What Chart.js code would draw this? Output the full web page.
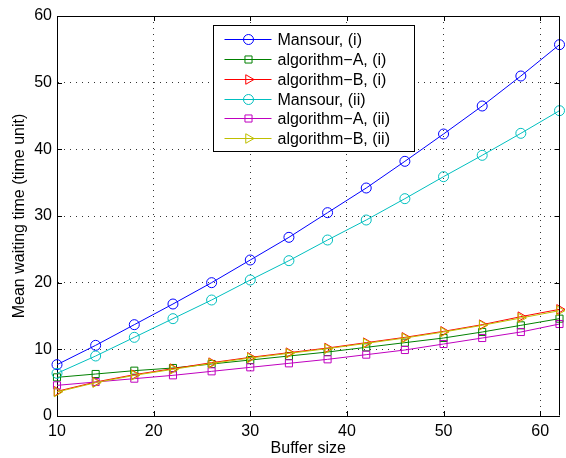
<!DOCTYPE html>
<html>
<head>
<meta charset="utf-8">
<script src="https://cdn.jsdelivr.net/npm/chart.js@4.4.0/dist/chart.umd.min.js"></script>
<style>
  body { margin: 0; background: #fff; }
  #wrap { width: 566px; height: 458px; }
</style>
</head>
<body>
<div id="wrap"><canvas id="myChart" width="566" height="458"></canvas></div>
<script>
// buffer sizes on the x axis
const bufferSizes = [10, 14, 18, 22, 26, 30, 34, 38, 42, 46, 50, 54, 58, 62];

// mean waiting time
const mansour1 = [7.7, 10.6, 13.7, 16.8, 20.0, 23.4, 26.8, 30.5, 34.2, 38.2, 42.3, 46.5, 51.0, 55.7];
const algA1 = [5.8, 6.3, 6.8, 7.2, 7.8, 8.4, 9.0, 9.6, 10.3, 11.0, 11.7, 12.6, 13.6, 14.6];
const algB1 = [3.7, 5.1, 6.2, 7.1, 8.0, 8.8, 9.5, 10.2, 11.0, 11.8, 12.7, 13.7, 14.9, 16.0];
const mansour2 = [6.4, 9.0, 11.8, 14.6, 17.4, 20.4, 23.3, 26.4, 29.4, 32.6, 35.9, 39.1, 42.4, 45.8];
const algA2 = [4.6, 5.1, 5.6, 6.1, 6.7, 7.3, 7.9, 8.5, 9.2, 9.9, 10.8, 11.7, 12.6, 13.8];
const algB2 = [3.6, 5.0, 6.1, 7.0, 7.9, 8.7, 9.4, 10.1, 10.9, 11.7, 12.6, 13.6, 14.7, 15.8];

const seriesLabels = ["Mansour, (i)", "algorithm\u2212A, (i)", "algorithm\u2212B, (i)",
  "Mansour, (ii)", "algorithm\u2212A, (ii)", "algorithm\u2212B, (ii)"];

const xTicks = [10, 20, 30, 40, 50, 60];
const yTicks = [0, 10, 20, 30, 40, 50, 60];

const FONT = "'Liberation Sans', Arial, Helvetica, sans-serif";

function makeSet(label, values, color, style, radius, rotation, order) {
  return {
    label: label,
    data: bufferSizes.map((x, i) => ({ x: x, y: values[i] })),
    borderColor: color,
    backgroundColor: color,
    borderWidth: 1,
    pointStyle: style,
    pointRadius: radius,
    pointRotation: rotation,
    pointBorderWidth: 1,
    pointBorderColor: color,
    pointBackgroundColor: "rgba(0,0,0,0)",
    pointHoverRadius: radius,
    tension: 0,
    clip: false,
    order: order,
  };
}

const datasets = [
  makeSet(seriesLabels[0], mansour1, "#0000ff", "circle", 5, 0, 6),
  makeSet(seriesLabels[1], algA1, "#008000", "rect", 5, 0, 5),
  makeSet(seriesLabels[2], algB1, "#ff0000", "triangle", 5.5, 90, 4),
  makeSet(seriesLabels[3], mansour2, "#00bfbf", "circle", 5, 0, 3),
  makeSet(seriesLabels[4], algA2, "#bf00bf", "rect", 5, 0, 2),
  makeSet(seriesLabels[5], algB2, "#bfbf00", "triangle", 5.5, 90, 1),
];

// box, inner tick marks and the legend, MATLAB style
const matlabFrame = {
  id: "matlabFrame",
  afterDraw(chart) {
    const ctx = chart.ctx;
    const a = chart.chartArea;
    const xs = chart.scales.x, ys = chart.scales.y;
    ctx.save();
    ctx.strokeStyle = "#000";
    ctx.lineWidth = 1;
    ctx.beginPath();
    ctx.moveTo(Math.round(a.left) + 0.5, Math.round(a.top) + 0.5);
    ctx.lineTo(Math.round(a.right) - 0.5, Math.round(a.top) + 0.5);
    ctx.lineTo(Math.round(a.right) - 0.5, Math.round(a.bottom) - 0.5);
    ctx.stroke();
    ctx.beginPath();
    xTicks.forEach((v) => {
      const px = Math.round(xs.getPixelForValue(v)) + 0.5;
      ctx.moveTo(px, a.bottom); ctx.lineTo(px, a.bottom - 5);
      ctx.moveTo(px, a.top); ctx.lineTo(px, a.top + 5);
    });
    yTicks.forEach((v) => {
      const py = Math.round(ys.getPixelForValue(v)) + 0.5;
      ctx.moveTo(a.left, py); ctx.lineTo(a.left + 5, py);
      ctx.moveTo(a.right, py); ctx.lineTo(a.right - 5, py);
    });
    ctx.stroke();

    // legend
    const bx = Math.round(a.left + 156) + 0.5, by = Math.round(a.top + 9) + 0.5;
    const bw = 201, bh = 126;
    ctx.fillStyle = "#fff";
    ctx.fillRect(bx, by, bw, bh);
    ctx.strokeStyle = "#000";
    ctx.strokeRect(bx, by, bw, bh);
    ctx.font = "16px " + FONT;
    ctx.textBaseline = "middle";
    ctx.textAlign = "left";
    chart.data.datasets.forEach((ds, i) => {
      const cy = Math.round(by + 13.3 + i * 19.9) + 0.5;
      ctx.strokeStyle = ds.borderColor;
      ctx.lineWidth = 1;
      ctx.beginPath();
      ctx.moveTo(bx + 11, cy);
      ctx.lineTo(bx + 58, cy);
      ctx.stroke();
      ctx.fillStyle = "rgba(0,0,0,0)";
      Chart.helpers.drawPoint(ctx, {
        pointStyle: ds.pointStyle,
        rotation: ds.pointRotation,
        radius: ds.pointRadius,
        borderWidth: 1,
      }, bx + 35, cy);
      ctx.fillStyle = "#000";
      ctx.fillText(ds.label, bx + 64, cy + 1);
    });
    ctx.restore();
  },
};

new Chart(document.getElementById("myChart").getContext("2d"), {
  type: "line",
  data: { datasets: datasets },
  options: {
    responsive: false,
    animation: false,
    layout: { padding: { top: 16, right: 2, left: 0, bottom: 0 } },
    plugins: { legend: { display: false }, tooltip: { enabled: false } },
    scales: {
      x: {
        type: "linear",
        min: 10,
        max: 62,
        afterBuildTicks: (scale) => { scale.ticks = xTicks.map((v) => ({ value: v })); },
        afterFit: (scale) => { scale.height = 42; },
        ticks: { color: "#000", font: { family: FONT, size: 16 }, padding: 6, maxRotation: 0, autoSkip: false },
        grid: { color: "rgba(0,0,0,0.8)", lineWidth: 1, drawTicks: false },
        border: { display: true, color: "#000", width: 1, dash: [1, 5] },
        title: { display: true, text: "Buffer size", color: "#000", font: { family: FONT, size: 16 }, padding: { top: 0, bottom: 0 } },
      },
      y: {
        type: "linear",
        min: 0,
        max: 60,
        afterBuildTicks: (scale) => { scale.ticks = yTicks.map((v) => ({ value: v })); },
        afterFit: (scale) => { scale.width = 57; },
        ticks: { color: "#000", font: { family: FONT, size: 16 }, padding: 5 },
        grid: { color: "rgba(0,0,0,0.8)", lineWidth: 1, drawTicks: false },
        border: { display: true, color: "#000", width: 1, dash: [1, 5] },
        title: { display: true, text: "Mean waiting time (time unit)", color: "#000", font: { family: FONT, size: 16 }, padding: { top: 10, bottom: 0 } },
      },
    },
  },
  plugins: [matlabFrame],
});
</script>
</body>
</html>
